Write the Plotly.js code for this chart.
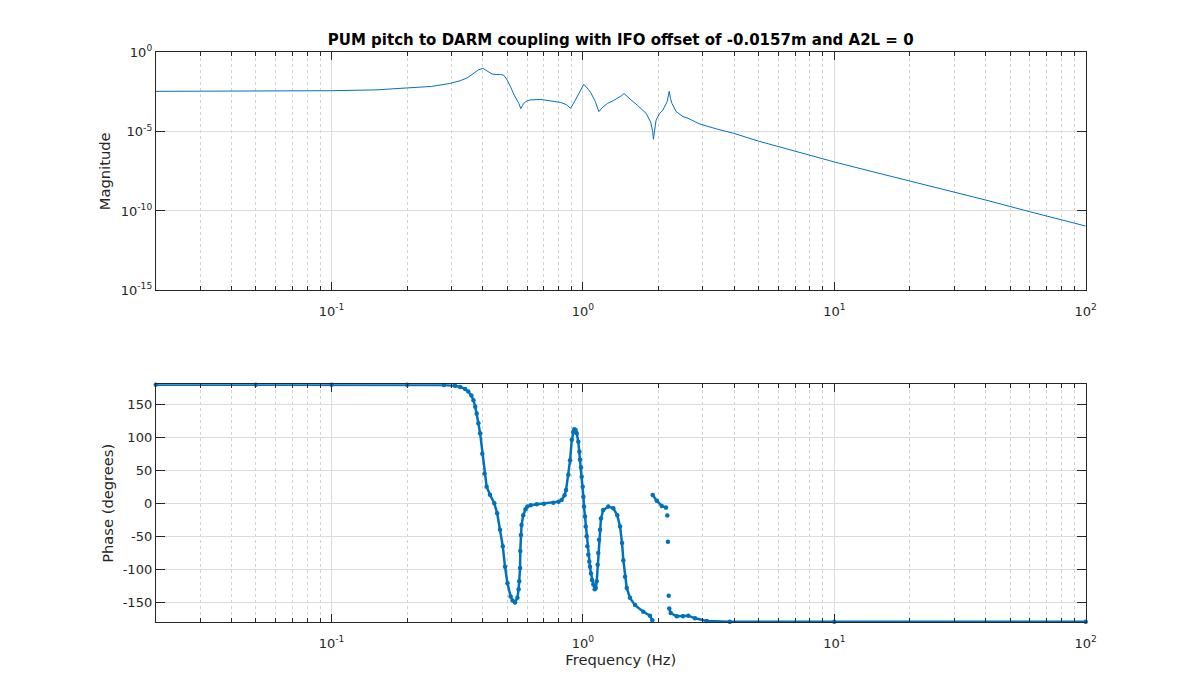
<!DOCTYPE html>
<html>
<head>
<meta charset="utf-8">
<script src="https://cdn.plot.ly/plotly-3.0.1.min.js"></script>
<style>body{margin:0;background:#fff}</style>
</head>
<body>
<div id="chart" style="width:1200px;height:700px"></div>
<script>
// ---- Data ----
const chartTitle = 'PUM pitch to DARM coupling with IFO offset of -0.0157m and A2L = 0';

// Magnitude (top panel)
const freqMag = [0.02, 0.05, 0.1, 0.15, 0.2, 0.25, 0.297, 0.325, 0.346, 0.367, 0.385, 0.400, 0.415, 0.435, 0.452, 0.470, 0.485, 0.500, 0.515, 0.535, 0.556, 0.566, 0.575, 0.582, 0.600, 0.619, 0.679, 0.75, 0.816, 0.86, 0.893, 0.93, 0.966, 1.008, 1.04, 1.075, 1.12, 1.157, 1.20, 1.254, 1.32, 1.375, 1.42, 1.458, 1.50, 1.554, 1.65, 1.784, 1.86, 1.895, 1.907, 1.925, 1.955, 2.02, 2.08, 2.163, 2.185, 2.205, 2.23, 2.26, 2.35, 2.50, 2.62, 2.92, 3.4, 3.97, 5, 6.5, 8, 10, 14, 20, 30, 40, 60, 100];
const magnitude = [3.47e-3, 3.55e-3, 3.80e-3, 4.27e-3, 5.37e-3, 7.08e-3, 1.10e-2, 1.62e-2, 2.40e-2, 4.79e-2, 7.94e-2, 9.77e-2, 7.08e-2, 4.27e-2, 3.98e-2, 4.07e-2, 3.55e-2, 1.78e-2, 6.76e-3, 1.78e-3, 6.03e-4, 2.82e-4, 4.47e-4, 6.03e-4, 8.91e-4, 1.00e-3, 1.07e-3, 8.91e-4, 6.92e-4, 5.01e-4, 2.95e-4, 8.91e-4, 2.63e-3, 9.55e-3, 5.62e-3, 2.82e-3, 7.94e-4, 1.82e-4, 3.55e-4, 6.03e-4, 8.91e-4, 1.26e-3, 1.78e-3, 2.51e-3, 1.58e-3, 1.00e-3, 4.47e-4, 1.41e-4, 3.98e-5, 1.00e-5, 3.31e-6, 1.26e-5, 5.37e-5, 1.41e-4, 2.29e-4, 7.76e-4, 1.58e-3, 3.47e-3, 1.26e-3, 6.03e-4, 1.82e-4, 8.91e-5, 6.92e-5, 3.02e-5, 1.48e-5, 7.94e-6, 2.51e-6, 7.94e-7, 3.39e-7, 1.23e-7, 3.16e-8, 7.76e-9, 1.51e-9, 4.90e-10, 8.91e-11, 1.12e-11];

// Phase (bottom panel); null marks breaks in the sweep (isolated samples)
const freqPhase = [0.02, 0.05, 0.1, 0.2, 0.28, 0.31, 0.325, 0.34, 0.35, 0.36, 0.367, 0.373, 0.378, 0.384, 0.390, 0.398, 0.406, 0.414, 0.427, 0.444, 0.456, 0.468, 0.480, 0.490, 0.501, 0.516, 0.525, 0.537, 0.549, 0.555, 0.558, 0.5625, 0.5635, 0.567, 0.570, 0.579, 0.591, 0.601, 0.62, 0.655, 0.70, 0.763, 0.80, 0.823, 0.845, 0.857, 0.875, 0.889, 0.903, 0.915, 0.924, 0.935, 0.945, 0.959, 0.968, 0.974, 0.983, 0.989, 0.998, 1.004, 1.010, 1.019, 1.026, 1.035, 1.041, 1.051, 1.060, 1.067, 1.077, 1.087, 1.100, 1.114, 1.125, 1.135, 1.145, 1.151, 1.159, 1.170, 1.180, 1.205, 1.262, 1.321, 1.370, 1.405, 1.431, 1.448, 1.471, 1.494, 1.539, 1.612, 1.739, 1.848, 1.888, null, 1.895, 1.966, 2.059, 2.140, null, 2.166, null, 2.179, null, 2.194, null, 2.206, 2.234, 2.362, 2.50, 2.626, 2.792, 3.11, 3.84, 10, 100];
const phaseDeg = [179.5, 179.5, 179.4, 179.2, 178.8, 177.8, 176, 173, 169, 163, 156, 146, 136, 121, 106, 75, 45, 25, 13, 0, -15, -40, -65, -96, -121, -141, -147, -150, -143, -130, -118, -98, -72, -48, -33, -18, -9, -5, -3, -1.5, -0.5, 1, 2.5, 5, 12, 20, 43, 65, 96, 108, 112, 111, 106, 93, 78, 66, 54, 40, 25, 10, -5, -20, -35, -50, -65, -78, -88, -96, -106, -116, -123, -130, -128, -118, -93, -75, -55, -40, -23, -10, -5, -7.5, -18, -35, -60, -86, -111, -128, -143, -154, -164, -170, -177, null, 12.6, 4, -4, -6.5, null, -18.6, null, -58, null, -140, null, -159, -166, -171, -171, -170, -174, -178, -179, -179.3, -179.3];

// Tick labels
const freqTickVals = [0.1, 1, 10, 100];
const freqTickText = ['10<sup>-1</sup>', '10<sup>0</sup>', '10<sup>1</sup>', '10<sup>2</sup>'];
const magTickVals = [1e-15, 1e-10, 1e-5, 1];
const magTickText = ['10<sup>-15</sup>', '10<sup>-10</sup>', '10<sup>-5</sup>', '10<sup>0</sup>'];
const phaseTickVals = [-150, -100, -50, 0, 50, 100, 150];
const phaseTickText = ['-150', '-100', '-50', '0', '50', '100', '150'];

// ---- Styling / layout ----
const W = 1200, H = 700;
const FONT = 'DejaVu Sans, Liberation Sans, sans-serif';
const AX = '#262626';
const BLUE = '#0072BD';
const xDom = [155.8 / W, 1085.7 / W];
const topDom = [(H - 290.3) / H, (H - 52.3) / H];
const botDom = [(H - 622.3) / H, (H - 384.3) / H];

const minorFreq = [];
for (let d = -2; d <= 1; d++) {
  for (let k = 2; k <= 9; k++) {
    const v = k * Math.pow(10, d);
    if (v > 0.0201 && v < 100) minorFreq.push(v);
  }
}

function freqAxis(anchor, title) {
  const ax = {
    type: 'log', range: [Math.log10(0.02), 2], domain: xDom, anchor: anchor,
    tickmode: 'array', tickvals: freqTickVals, ticktext: freqTickText,
    ticks: 'inside', ticklen: 8, tickcolor: AX, tickwidth: 1,
    ticklabelstandoff: 9,
    mirror: 'allticks', showline: true, linecolor: AX, linewidth: 1,
    showgrid: true, gridcolor: '#dcdcdc', gridwidth: 1, zeroline: false,
    tickfont: {family: FONT, size: 13, color: AX},
    minor: {tickmode: 'array', tickvals: minorFreq, ticks: 'inside', ticklen: 4,
            tickcolor: AX, tickwidth: 1, showgrid: true, gridcolor: '#d2d2d2',
            griddash: 'dot', gridwidth: 1}
  };
  if (title) ax.title = {text: title, font: {family: FONT, size: 14.7, color: AX}, standoff: 3};
  return ax;
}

const traces = [
  {x: freqMag, y: magnitude, xaxis: 'x', yaxis: 'y', type: 'scatter', mode: 'lines',
   line: {color: BLUE, width: 1}, hoverinfo: 'skip', showlegend: false},
  {x: freqPhase, y: phaseDeg, xaxis: 'x2', yaxis: 'y2', type: 'scatter', mode: 'lines+markers',
   line: {color: BLUE, width: 2.5}, marker: {color: BLUE, size: 4.5}, connectgaps: false,
   cliponaxis: false, hoverinfo: 'skip', showlegend: false}
];

const layout = {
  width: W, height: H,
  margin: {l: 0, r: 0, t: 0, b: 0},
  paper_bgcolor: '#fff', plot_bgcolor: '#fff',
  showlegend: false,
  title: {text: '<b>' + chartTitle + '</b>', font: {family: FONT, size: 15, color: '#000'},
          x: 620.7 / W, xref: 'paper', xanchor: 'center', y: 1 - 40 / H, yref: 'container', yanchor: 'middle'},
  xaxis: freqAxis('y', null),
  yaxis: {
    type: 'log', range: [-15, 0], domain: topDom, anchor: 'x',
    tickmode: 'array', tickvals: magTickVals, ticktext: magTickText,
    ticks: 'inside', ticklen: 9, tickcolor: AX, mirror: 'allticks', showline: true,
    linecolor: AX, linewidth: 1, showgrid: true, gridcolor: '#dcdcdc', zeroline: false,
    tickfont: {family: FONT, size: 13, color: AX},
    title: {text: 'Magnitude', font: {family: FONT, size: 14.7, color: AX}, standoff: 6}
  },
  xaxis2: freqAxis('y2', 'Frequency (Hz)'),
  yaxis2: {
    range: [-180, 180], domain: botDom, anchor: 'x2',
    tickmode: 'array', tickvals: phaseTickVals, ticktext: phaseTickText,
    ticks: 'inside', ticklen: 9, tickcolor: AX, mirror: 'allticks', showline: true,
    linecolor: AX, linewidth: 1, showgrid: true, gridcolor: '#dcdcdc', zeroline: false,
    tickfont: {family: FONT, size: 13, color: AX},
    title: {text: 'Phase (degrees)', font: {family: FONT, size: 14.7, color: AX}, standoff: 5}
  }
};

Plotly.newPlot('chart', traces, layout, {staticPlot: true, displayModeBar: false});
</script>
</body>
</html>
